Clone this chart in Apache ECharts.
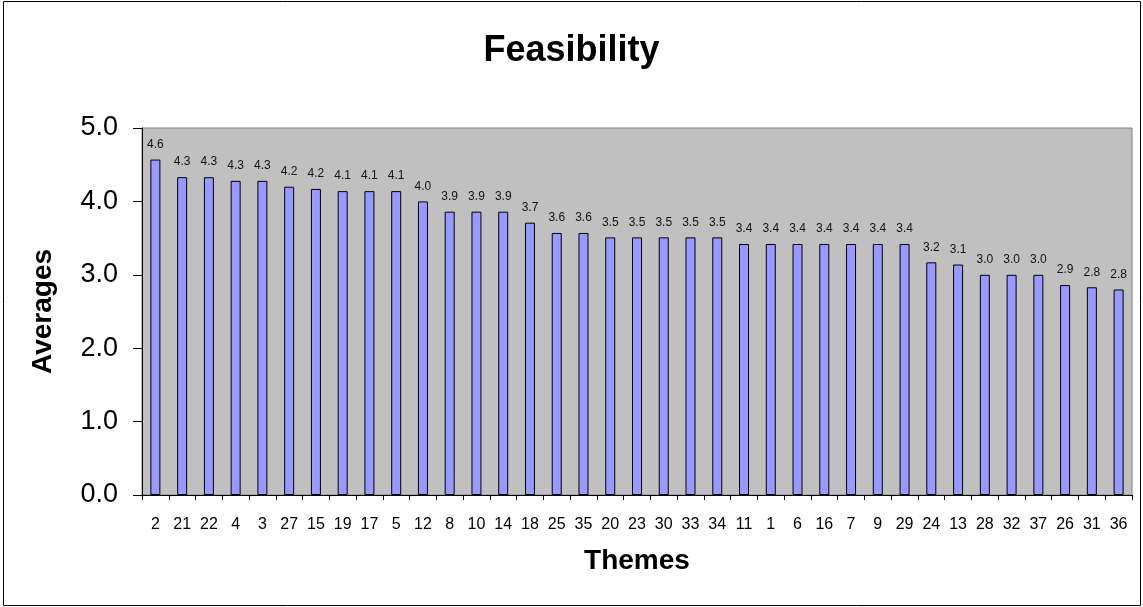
<!DOCTYPE html>
<html>
<head>
<meta charset="utf-8">
<script src="https://cdn.jsdelivr.net/npm/echarts@6/dist/echarts.min.js"></script>
<style>
html,body{margin:0;padding:0;background:#fff;}
#chart{width:1143px;height:607px;}
</style>
</head>
<body>
<div id="chart"></div>
<script>
const categories = ['2','21','22','4','3','27','15','19','17','5','12','8','10','14','18','25','35','20','23','30','33','34','11','1','6','16','7','9','29','24','13','28','32','37','26','31','36'];
const averages = [4.57,4.33,4.33,4.28,4.28,4.20,4.17,4.14,4.14,4.14,4.00,3.86,3.86,3.86,3.71,3.57,3.57,3.51,3.51,3.51,3.51,3.51,3.42,3.42,3.42,3.42,3.42,3.42,3.42,3.17,3.14,3.00,3.00,3.00,2.86,2.83,2.80];
const yTicks = [0,1,2,3,4,5];

const FONT = '"Liberation Sans", Arial, sans-serif';
const chart = echarts.init(document.getElementById('chart'));
chart.setOption({
  animation: false,
  backgroundColor: '#fff',
  title: {
    text: 'Feasibility',
    left: 'center',
    top: 28,
    textStyle: {fontFamily: FONT, fontSize: 36, fontWeight: 'bold', color: '#000'}
  },
  graphic: [{
    type: 'rect',
    shape: {x: 3.5, y: 1.5, width: 1137, height: 604},
    style: {fill: 'none', stroke: '#000', lineWidth: 1},
    silent: true
  }],
  grid: {
    left: 142, right: 11, top: 128, bottom: 112,
    show: true, backgroundColor: '#C0C0C0', borderColor: '#808080', borderWidth: 1
  },
  xAxis: {
    type: 'category',
    data: categories,
    name: 'Themes',
    nameLocation: 'middle',
    nameGap: 52,
    nameTextStyle: {fontFamily: FONT, fontSize: 28, fontWeight: 'bold', color: '#000'},
    axisLine: {lineStyle: {color: '#000', width: 1}},
    axisTick: {show: true, length: 5, lineStyle: {color: '#000'}},
    axisLabel: {interval: 0, fontFamily: FONT, fontSize: 16, color: '#000', margin: 22},
    splitLine: {show: false}
  },
  yAxis: {
    type: 'value',
    min: yTicks[0], max: yTicks[yTicks.length - 1], interval: 1,
    name: 'Averages',
    nameLocation: 'middle',
    nameGap: 85,
    nameTextStyle: {fontFamily: FONT, fontSize: 28, fontWeight: 'bold', color: '#000'},
    axisLine: {show: true, lineStyle: {color: '#000', width: 1}},
    axisTick: {show: true, length: 9, lineStyle: {color: '#000'}},
    axisLabel: {fontFamily: FONT, fontSize: 27, color: '#000', margin: 24,
      formatter: v => v.toFixed(1)},
    splitLine: {show: false}
  },
  series: [{
    type: 'bar',
    data: averages,
    barWidth: 10,
    itemStyle: {color: '#9999FF', borderColor: '#000', borderWidth: 1},
    label: {
      show: true, position: 'top', distance: 9,
      fontFamily: FONT, fontSize: 12, color: '#111',
      formatter: p => p.value.toFixed(1)
    }
  }]
});
</script>
</body>
</html>
